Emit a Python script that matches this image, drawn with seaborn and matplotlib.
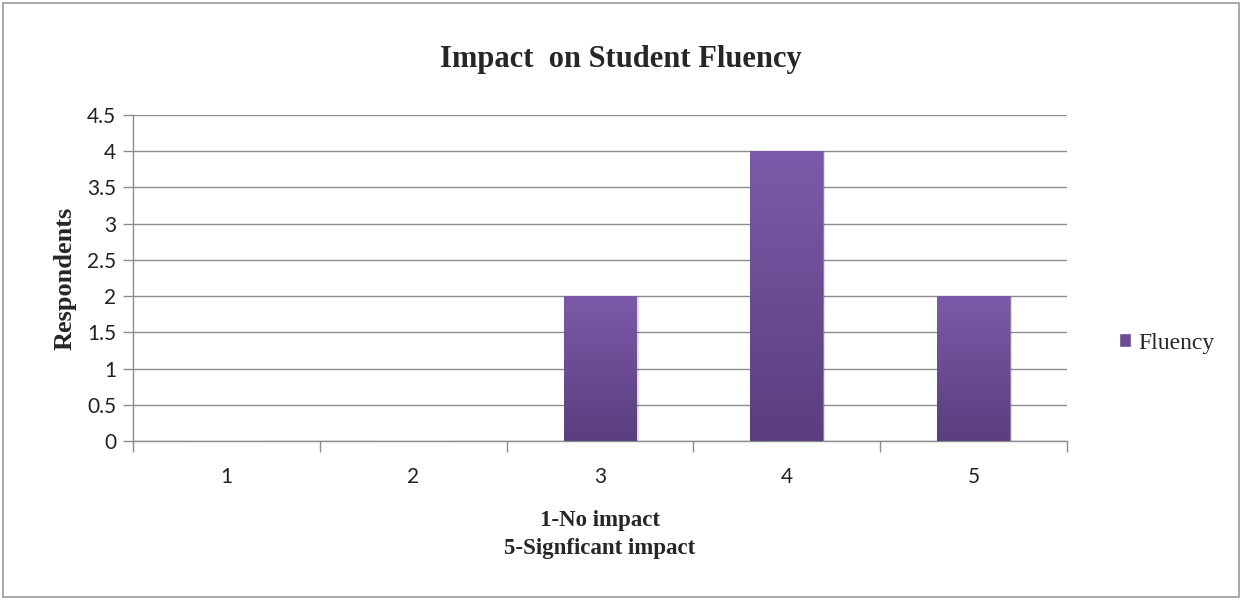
import matplotlib
matplotlib.use("Agg")
import matplotlib.pyplot as plt
import matplotlib.colors as mcolors
from matplotlib.patches import Rectangle
import numpy as np
import pandas as pd
import seaborn as sns

# data
ratings = ["1", "2", "3", "4", "5"]
respondents = [0, 0, 2, 4, 2]
series_name = "Fluency"

sns.set_style("white")
serif = ["Liberation Serif", "DejaVu Serif"]
sans = ["Lato", "DejaVu Sans"]

df = pd.DataFrame({"rating": ratings, "respondents": respondents})

fig = plt.figure(figsize=(12.42, 6), dpi=100)
ax = fig.add_axes([133 / 1242, 1 - 441 / 600, (1067 - 133) / 1242, (441 - 115) / 600])

sns.barplot(data=df, x="rating", y="respondents", color="#6a4b96", width=0.39,
            ax=ax, saturation=1, zorder=3)

# vertical gradient on bars, like the spreadsheet fill
grad = mcolors.LinearSegmentedColormap.from_list("g", ["#5a3e7e", "#7c5aa9"])
for p in ax.patches:
    if p.get_height() <= 0:
        continue
    x0, y0 = p.get_x(), p.get_y()
    w, h = p.get_width(), p.get_height()
    sh = Rectangle((x0 + 0.012, y0), w, h, facecolor="#000000", alpha=0.12,
                   edgecolor="none", zorder=2.5)
    ax.add_patch(sh)
    img = ax.imshow(np.linspace(0, 1, 256).reshape(-1, 1), cmap=grad, origin="lower",
                    extent=[x0, x0 + w, y0, y0 + h], aspect="auto", zorder=3.5)
    img.set_clip_path(p)
    p.set_edgecolor("#8a7aa0")
    p.set_linewidth(0.6)

ax.set_xlim(-0.5, 4.5)
ax.set_ylim(0, 4.5)
ax.set_yticks(np.arange(0, 4.51, 0.5))
ax.set_yticklabels(["0", "0.5", "1", "1.5", "2", "2.5", "3", "3.5", "4", "4.5"])
ax.yaxis.grid(True, color="#8c8c8c", linewidth=1.0, zorder=0)
ax.set_axisbelow(True)

for s in ["top", "right"]:
    ax.spines[s].set_visible(False)
for s in ["left", "bottom"]:
    ax.spines[s].set_color("#8c8c8c")
    ax.spines[s].set_linewidth(1.0)

ax.set_xticks(np.arange(-0.5, 4.6, 1.0), minor=True)
ax.tick_params(axis="x", which="major", bottom=True, length=0, pad=19, labelsize=15,
               labelcolor="#222222")
ax.tick_params(axis="x", which="minor", bottom=True, length=8, color="#8c8c8c", width=1.0)
ax.tick_params(axis="y", which="major", left=True, length=7, color="#8c8c8c", width=1.0,
               pad=5, labelsize=15, labelcolor="#222222")
for lab in ax.get_xticklabels() + ax.get_yticklabels():
    lab.set_family(sans)

ax.set_xlabel("1-No impact\n5-Signficant impact", family=serif, fontsize=16.5,
              fontweight="bold", labelpad=16, linespacing=1.45)
ax.set_ylabel("Respondents", family=serif, fontsize=19, fontweight="bold", labelpad=8)

fig.text(0.5, 1 - 59 / 600, "Impact  on Student Fluency", family=serif, fontsize=22,
         fontweight="bold", ha="center", va="center")

# legend
handle = Rectangle((0, 0), 1, 1, facecolor="#6a4b96")
fig.legend([handle], [series_name], loc="center left", bbox_to_anchor=(1098 / 1242, 1 - 343 / 600),
           frameon=False, prop={"family": serif, "size": 17}, handlelength=0.5,
           handleheight=0.5, handletextpad=0.3)

# outer frame
fig.patches.append(Rectangle((3 / 1242, 3 / 600), 1 - 6 / 1242, 1 - 6 / 600,
                             transform=fig.transFigure, fill=False,
                             edgecolor="#9a9a9a", linewidth=1.2))

fig.savefig("out.png", dpi=100)
